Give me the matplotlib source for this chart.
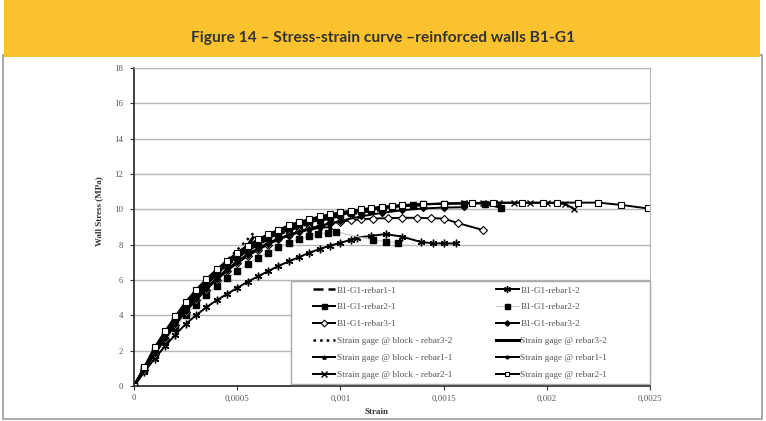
import matplotlib
matplotlib.use("Agg")
import matplotlib.pyplot as plt
from matplotlib.patches import Rectangle

# ---------------- data (strain, stress in MPa) ----------------
title = "Figure 14 – Stress-strain curve –reinforced walls B1-G1"

r11_x = [0, 0.00005, 0.0001, 0.00015, 0.0002, 0.00025, 0.0003, 0.00035, 0.0004, 0.00045, 0.0005,
         0.00055, 0.0006, 0.00065, 0.0007, 0.00075, 0.0008, 0.00085, 0.0009, 0.00095, 0.001,
         0.00105, 0.0011, 0.00115, 0.0012, 0.00125]
r11_y = [0, 1.0, 1.95, 2.85, 3.7, 4.45, 5.15, 5.75, 6.3, 6.8, 7.25, 7.65, 8.0, 8.3, 8.55, 8.8,
         9.0, 9.2, 9.35, 9.5, 9.62, 9.72, 9.82, 9.9, 9.96, 10.0]

r12_x = [0, 0.00005, 0.0001, 0.00015, 0.0002, 0.00025, 0.0003, 0.00035, 0.0004, 0.00045, 0.0005,
         0.00055, 0.0006, 0.00065, 0.0007, 0.00075, 0.0008, 0.00085, 0.0009, 0.00095, 0.001,
         0.00105, 0.00108, 0.00115, 0.00122, 0.0013, 0.00139, 0.00145, 0.0015, 0.00156]
r12_y = [0, 0.8, 1.55, 2.25, 2.9, 3.5, 4.0, 4.45, 4.85, 5.2, 5.55, 5.9, 6.2, 6.5, 6.8, 7.05,
         7.3, 7.55, 7.75, 7.95, 8.1, 8.28, 8.4, 8.5, 8.6, 8.45, 8.15, 8.08, 8.07, 8.07]

r21_x = [0, 0.00005, 0.0001, 0.00015, 0.0002, 0.00025, 0.0003, 0.00035, 0.0004, 0.00045, 0.0005,
         0.00055, 0.0006, 0.00065, 0.0007, 0.00075, 0.0008, 0.00085, 0.0009, 0.00095, 0.001,
         0.00105, 0.0011, 0.00115, 0.0012, 0.00125, 0.0013, 0.00135, 0.0014, 0.0015, 0.0016,
         0.0017, 0.00178]
r21_y = [0, 1.0, 2.0, 2.9, 3.75, 4.5, 5.2, 5.8, 6.35, 6.85, 7.3, 7.7, 8.05, 8.35, 8.6, 8.85,
         9.05, 9.25, 9.4, 9.55, 9.68, 9.8, 9.9, 9.98, 10.05, 10.12, 10.2, 10.25, 10.28, 10.32,
         10.33, 10.33, 10.07]

r22_x = [0, 0.00005, 0.0001, 0.00015, 0.0002, 0.00025, 0.0003, 0.00035, 0.0004, 0.00045, 0.0005,
         0.00055, 0.0006, 0.00065, 0.0007, 0.00075, 0.0008, 0.00085, 0.00089, 0.00094, 0.00098,
         0.00116, 0.00122, 0.00128]
r22_y = [0, 0.9, 1.75, 2.55, 3.3, 4.0, 4.6, 5.15, 5.65, 6.1, 6.5, 6.9, 7.25, 7.55, 7.85, 8.1,
         8.3, 8.5, 8.6, 8.68, 8.73, 8.26, 8.17, 8.11]

r31_x = [0, 0.00005, 0.0001, 0.00015, 0.0002, 0.00025, 0.0003, 0.00035, 0.0004, 0.00045, 0.0005,
         0.00055, 0.0006, 0.00065, 0.0007, 0.00075, 0.0008, 0.00085, 0.0009, 0.00095, 0.001,
         0.00105, 0.0011, 0.00116, 0.00123, 0.0013, 0.00137, 0.00144, 0.0015, 0.00157, 0.00169]
r31_y = [0, 0.9, 1.8, 2.65, 3.45, 4.2, 4.85, 5.45, 6.0, 6.5, 6.95, 7.35, 7.7, 8.0, 8.3, 8.55,
         8.75, 8.92, 9.07, 9.2, 9.3, 9.38, 9.44, 9.48, 9.5, 9.52, 9.52, 9.5, 9.48, 9.22, 8.83]

r32_x = [0, 0.00005, 0.0001, 0.00015, 0.0002, 0.00025, 0.0003, 0.00035, 0.0004, 0.00045, 0.0005,
         0.00055, 0.0006, 0.00065, 0.0007, 0.00075, 0.0008, 0.00085, 0.0009, 0.00095, 0.001,
         0.0011, 0.0012, 0.0013, 0.0014, 0.0015, 0.0016]
r32_y = [0, 0.95, 1.85, 2.7, 3.5, 4.25, 4.9, 5.5, 6.05, 6.55, 7.0, 7.4, 7.75, 8.05, 8.3, 8.5,
         8.7, 8.88, 9.05, 9.2, 9.35, 9.6, 9.8, 9.95, 10.05, 10.1, 10.12]

sgb32_x = [0, 0.00005, 0.0001, 0.00015, 0.0002, 0.00025, 0.0003, 0.00032, 0.00035, 0.0004,
           0.00045, 0.0005, 0.00055, 0.000586]
sgb32_y = [0, 1.0, 2.0, 2.9, 3.75, 4.5, 5.2, 5.45, 5.85, 6.45, 7.1, 7.7, 8.3, 8.75]

sg32_x = [0, 0.00005, 0.0001, 0.00015, 0.0002, 0.00025, 0.0003, 0.00035, 0.0004, 0.00045,
          0.0005, 0.00055, 0.000577]
sg32_y = [0, 0.95, 1.9, 2.8, 3.6, 4.35, 5.1, 5.75, 6.35, 6.9, 7.45, 7.95, 8.4]

sgb11_x = [0, 0.00005, 0.0001, 0.00015, 0.0002, 0.00025, 0.0003, 0.00035, 0.0004, 0.00045,
           0.0005, 0.00055, 0.0006, 0.00065, 0.0007, 0.00075, 0.0008, 0.00085, 0.0009, 0.00095]
sgb11_y = [0, 0.95, 1.85, 2.75, 3.55, 4.3, 4.95, 5.55, 6.1, 6.6, 7.05, 7.45, 7.8, 8.1, 8.35,
           8.55, 8.72, 8.85, 8.95, 9.0]

sg11_x = [0, 0.00005, 0.0001, 0.00015, 0.0002, 0.00025, 0.0003, 0.00035, 0.0004, 0.00045, 0.0005,
          0.00055, 0.0006, 0.00065, 0.0007, 0.00075, 0.0008, 0.00085, 0.0009, 0.00095, 0.001,
          0.0011, 0.0012, 0.0013, 0.0014]
sg11_y = [0, 1.05, 2.05, 3.0, 3.85, 4.6, 5.3, 5.9, 6.45, 6.95, 7.4, 7.8, 8.15, 8.45, 8.7, 8.95,
          9.15, 9.33, 9.5, 9.63, 9.75, 9.95, 10.08, 10.18, 10.22]

sgb21_x = [0, 0.00005, 0.0001, 0.00015, 0.0002, 0.00025, 0.0003, 0.00035, 0.0004, 0.00045, 0.0005,
           0.00055, 0.0006, 0.00065, 0.0007, 0.00075, 0.0008, 0.00085, 0.0009, 0.00095, 0.001,
           0.0011, 0.0012, 0.0013, 0.0014, 0.0015, 0.0016, 0.00169, 0.00177, 0.00184, 0.00192,
           0.002, 0.00209, 0.00213]
sgb21_y = [0, 1.05, 2.1, 3.05, 3.9, 4.7, 5.4, 6.0, 6.55, 7.05, 7.5, 7.9, 8.25, 8.55, 8.8, 9.05,
           9.25, 9.42, 9.57, 9.7, 9.8, 9.98, 10.12, 10.22, 10.28, 10.32, 10.35, 10.37, 10.38,
           10.38, 10.37, 10.37, 10.3, 10.03]

sg21_x = [0, 0.00005, 0.0001, 0.00015, 0.0002, 0.00025, 0.0003, 0.00035, 0.0004, 0.00045, 0.0005,
          0.00055, 0.0006, 0.00065, 0.0007, 0.00075, 0.0008, 0.00085, 0.0009, 0.00095, 0.001,
          0.00105, 0.0011, 0.00115, 0.0012, 0.00125, 0.0013, 0.0014, 0.0015, 0.00164, 0.00174,
          0.00188, 0.00198, 0.00205, 0.00215, 0.00225, 0.00236, 0.00249]
sg21_y = [0, 1.1, 2.2, 3.1, 3.95, 4.75, 5.45, 6.05, 6.6, 7.1, 7.55, 7.95, 8.3, 8.6, 8.85, 9.1,
          9.3, 9.45, 9.6, 9.72, 9.83, 9.93, 10.0, 10.08, 10.15, 10.2, 10.25, 10.3, 10.33, 10.35,
          10.36, 10.37, 10.38, 10.38, 10.38, 10.38, 10.25, 10.05]

labels = ["B1-G1-rebar1-1", "B1-G1-rebar1-2", "B1-G1-rebar2-1", "B1-G1-rebar2-2",
          "B1-G1-rebar3-1", "B1-G1-rebar3-2", "Strain gage @ block - rebar3-2",
          "Strain gage @ rebar3-2", "Strain gage @ block - rebar1-1", "Strain gage @ rebar1-1",
          "Strain gage @ block - rebar2-1", "Strain gage @ rebar2-1"]

x_ticks = [0, 0.0005, 0.001, 0.0015, 0.002, 0.0025]
x_ticklabels = ["0", "0,0005", "0,001", "0,0015", "0,002", "0,0025"]
y_ticks = [0, 2, 4, 6, 8, 10, 12, 14, 16, 18]

# ---------------- figure ----------------
W, H = 766, 421
fig = plt.figure(figsize=(W / 100, H / 100), dpi=100)
fig.patch.set_facecolor("white")

def px_rect(x0, y0, x1, y1, **kw):
    return Rectangle((x0 / W, 1 - y1 / H), (x1 - x0) / W, (y1 - y0) / H,
                     transform=fig.transFigure, **kw)

fig.patches.append(px_rect(3, 55, 762, 419, facecolor="white", edgecolor="#9a9a9a", lw=1.2,
                           zorder=-5))
fig.patches.append(px_rect(4, 0, 760, 57, facecolor="#FBC22F", edgecolor="none", zorder=-4))
fig.text(383 / W, 1 - 38 / H, title, ha="center", va="center", fontsize=11.2,
         family="Lato", weight="bold", color="#333333")

AX0, AX1, AY0, AY1 = 134, 650, 68, 386
ax = fig.add_axes([AX0 / W, 1 - AY1 / H, (AX1 - AX0) / W, (AY1 - AY0) / H])
ax.set_xlim(0, 0.0025)
ax.set_ylim(0, 18)
ax.set_facecolor("white")

def ax_x(px):
    return (px - AX0) / (AX1 - AX0)

def ax_y(py):
    return (AY1 - py) / (AY1 - AY0)

serif = "Liberation Serif"
k = dict(color="black", lw=1.4)
ms = 4
h = {}
h[0], = ax.plot(r11_x, r11_y, ls=(0, (4, 2)), lw=1.8, color="black", label=labels[0])
h[1], = ax.plot(r12_x, r12_y, marker=(6, 2, 0), ms=5.5, mew=1.0, **k, label=labels[1])
h[2], = ax.plot(r21_x, r21_y, marker="s", ms=ms, mfc="black", **k, label=labels[2])
h[3], = ax.plot(r22_x, r22_y, marker="s", ms=ms, mfc="black", mec="black", color="#c8c8c8",
                lw=0.8, label=labels[3])
h[4], = ax.plot(r31_x, r31_y, marker="D", ms=3.8, mfc="white", mec="black", mew=0.8, **k,
                label=labels[4])
h[5], = ax.plot(r32_x, r32_y, marker="D", ms=3.0, mfc="black", **k, label=labels[5])
h[6], = ax.plot(sgb32_x, sgb32_y, ls=":", lw=1.8, color="black", label=labels[6])
h[7], = ax.plot(sg32_x, sg32_y, lw=2.2, color="black", label=labels[7])
h[8], = ax.plot(sgb11_x, sgb11_y, marker="^", ms=2.6, **k, label=labels[8])
h[9], = ax.plot(sg11_x, sg11_y, marker="o", ms=2.2, **k, label=labels[9])
h[10], = ax.plot(sgb21_x, sgb21_y, marker="x", ms=4.5, mew=1.0, **k, label=labels[10])
h[11], = ax.plot(sg21_x, sg21_y, marker="s", ms=3.8, mfc="white", mec="black", mew=0.8, **k,
                 label=labels[11])

ax.set_xticks(x_ticks)
ax.set_xticklabels(x_ticklabels)
ax.set_yticks(y_ticks)
ax.set_yticklabels([str(v) for v in y_ticks])
for t in ax.get_xticklabels() + ax.get_yticklabels():
    t.set_family(serif)
    t.set_fontsize(6.3)
    t.set_color("#555555")
ax.tick_params(axis="both", length=3, width=0.8, color="#333333")
ax.tick_params(axis="x", pad=3)
ax.tick_params(axis="y", pad=5)
ax.grid(axis="y", color="#b5b5b5", lw=1.0)
ax.set_axisbelow(True)
ax.spines["left"].set_color("#222222")
ax.spines["bottom"].set_color("#222222")
ax.spines["left"].set_linewidth(1.2)
ax.spines["bottom"].set_linewidth(1.2)
ax.spines["top"].set_color("#b5b5b5")
ax.spines["right"].set_color("#b5b5b5")

ax.set_ylabel("Wall Stress (MPa)", family=serif, weight="bold", fontsize=6.5, color="#333333")
ax.yaxis.set_label_coords(ax_x(103), ax_y(211))
ax.set_xlabel("Strain", family=serif, weight="bold", fontsize=6.5, color="#333333")
ax.xaxis.set_label_coords(ax_x(377), ax_y(408))

# legend frame (drawn separately) and legend entries
ax.add_patch(Rectangle((ax_x(291), ax_y(384)), ax_x(650) - ax_x(291), ax_y(281) - ax_y(384),
                       transform=ax.transAxes, facecolor="white", edgecolor="#a8a8a8",
                       lw=1.0, zorder=4.5, clip_on=False))
order = [0, 2, 4, 6, 8, 10, 1, 3, 5, 7, 9, 11]
leg = ax.legend([h[i] for i in order], [labels[i] for i in order], ncol=2,
                loc="upper left", bbox_to_anchor=(ax_x(313), ax_y(286)),
                prop={"family": serif, "size": 6.7}, frameon=False,
                labelspacing=0.9, handlelength=2.4, handletextpad=0.2, borderpad=0.0,
                borderaxespad=0.0, columnspacing=4.7, markerscale=0.9)
for t in leg.get_texts():
    t.set_color("#555555")

fig.savefig("out.png", dpi=100)
